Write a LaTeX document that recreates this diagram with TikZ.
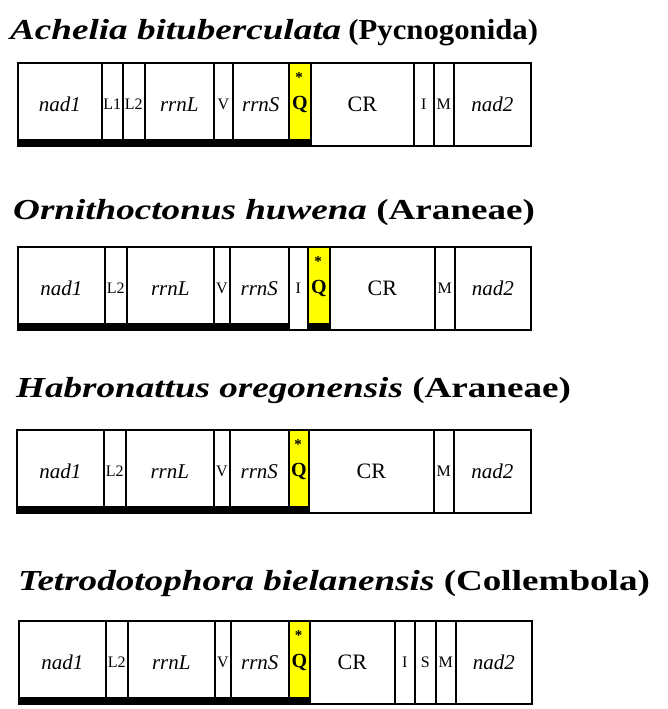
\documentclass[tikz,border=0pt]{standalone}
\usepackage{fontspec}
\usepackage{graphicx}
\setmainfont{Liberation Serif}
\definecolor{qyellow}{RGB}{255,255,0}
\tikzset{
  segbox/.style={draw, line width=1.6pt, inner sep=0pt, anchor=north west, minimum height=83pt, font=\fontsize{21}{24}\selectfont},
  gname/.style={font=\fontsize{21}{24}\selectfont\itshape},
  small/.style={font=\fontsize{16}{18}\selectfont},
  plain/.style={font=\fontsize{22}{24}\selectfont},
  qbox/.style={fill=qyellow, font=\fontsize{20}{24}\selectfont\bfseries},
  titletext/.style={anchor=base west, inner sep=0pt, font=\fontsize{29}{32}\selectfont\bfseries},
  ast/.style={inner sep=0pt, font=\fontsize{15}{16}\selectfont\bfseries},
  bar/.style={fill=black}
}
\newcommand\seg[6]{\node[segbox,#6,minimum width={#4pt-#3pt}] (#1) at (#3,#2) {#5};}
\newcommand\wide[1]{\scalebox{1.28}[1]{#1}}
\begin{document}
\begin{tikzpicture}[x=1pt,y=-1pt]
\useasboundingbox[fill=white] (0,0) rectangle (667,709);
% ---------- Row 1
\node[titletext] (t1) at (10,40) {\wide{\textit{Achelia bituberculata}} \scalebox{1.06}[1]{(Pycnogonida)}};
\seg{a1}{62}{17}{101}{nad1}{gname}
\seg{a2}{62}{101}{122}{L1}{small}
\seg{a3}{62}{122}{144}{L2}{small}
\seg{a4}{62}{144}{213}{rrnL}{gname}
\seg{a5}{62}{213}{232}{V}{small}
\seg{a6}{62}{232}{288}{rrnS}{gname}
\seg{a7}{62}{288}{310}{Q}{qbox}
\seg{a8}{62}{310}{413}{CR}{plain}
\seg{a9}{62}{413}{433}{I}{small}
\seg{a10}{62}{433}{453}{M}{small}
\seg{a11}{62}{453}{530}{nad2}{gname}
\node[ast] (as1) at (299,78) {*};
\fill[bar] (17,139) rectangle (310,147);
% ---------- Row 2
\node[titletext] (t2) at (13,219) {\wide{\textit{Ornithoctonus huwena} (Araneae)}};
\seg{b1}{246}{17}{104}{nad1}{gname}
\seg{b2}{246}{104}{126}{L2}{small}
\seg{b3}{246}{126}{213}{rrnL}{gname}
\seg{b4}{246}{213}{229}{V}{small}
\seg{b5}{246}{229}{288}{rrnS}{gname}
\seg{b6}{246}{288}{307}{I}{small}
\seg{b7}{246}{307}{329}{Q}{qbox}
\seg{b8}{246}{329}{434}{CR}{plain}
\seg{b9}{246}{434}{454}{M}{small}
\seg{b10}{246}{454}{530}{nad2}{gname}
\node[ast] (as2) at (318,262) {*};
\fill[bar] (17,323) rectangle (288,331);
\fill[bar] (307,323) rectangle (329,331);
% ---------- Row 3
\node[titletext] (t3) at (16,397) {\wide{\textit{Habronattus oregonensis} (Araneae)}};
\seg{c1}{429}{16}{103}{nad1}{gname}
\seg{c2}{429}{103}{125}{L2}{small}
\seg{c3}{429}{125}{213}{rrnL}{gname}
\seg{c4}{429}{213}{229}{V}{small}
\seg{c5}{429}{229}{288}{rrnS}{gname}
\seg{c6}{429}{288}{308}{Q}{qbox}
\seg{c7}{429}{308}{433}{CR}{plain}
\seg{c8}{429}{433}{453}{M}{small}
\seg{c9}{429}{453}{530}{nad2}{gname}
\node[ast] (as3) at (298,445) {*};
\fill[bar] (16,506) rectangle (308,514);
% ---------- Row 4
\node[titletext] (t4) at (18,590) {\wide{\textit{Tetrodotophora bielanensis} (Collembola)}};
\seg{d1}{620}{18}{105}{nad1}{gname}
\seg{d2}{620}{105}{127}{L2}{small}
\seg{d3}{620}{127}{214}{rrnL}{gname}
\seg{d4}{620}{214}{230}{V}{small}
\seg{d5}{620}{230}{288}{rrnS}{gname}
\seg{d6}{620}{288}{309}{Q}{qbox}
\seg{d7}{620}{309}{394}{CR}{plain}
\seg{d8}{620}{394}{414}{I}{small}
\seg{d9}{620}{414}{435}{S}{small}
\seg{d10}{620}{435}{455}{M}{small}
\seg{d11}{620}{455}{531}{nad2}{gname}
\node[ast] (as4) at (298.5,636) {*};
\fill[bar] (18,697) rectangle (309,705);
\end{tikzpicture}
\end{document}
